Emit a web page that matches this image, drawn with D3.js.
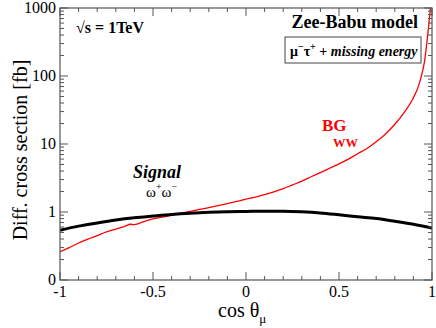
<!DOCTYPE html>
<html>
<head>
<meta charset="UTF-8">
<script src="https://d3js.org/d3.v7.min.js"></script>
<style>
  body { margin: 0; background: #fff; }
</style>
</head>
<body>
<div id="chart"></div>
<script>
// data
const cosTheta = [-1, -0.9, -0.8, -0.7, -0.6, -0.5, -0.4, -0.3, -0.2, -0.1, 0, 0.1, 0.2, 0.3, 0.4, 0.5, 0.6, 0.7, 0.8, 0.9, 1];
const signal = [0.54, 0.62, 0.69, 0.76, 0.82, 0.87, 0.92, 0.96, 0.99, 1.01, 1.02, 1.03, 1.03, 1.01, 0.97, 0.91, 0.85, 0.80, 0.73, 0.66, 0.58];

const bgCos = [-1, -0.95, -0.9, -0.85, -0.8, -0.75, -0.7, -0.65, -0.62, -0.6, -0.55, -0.5, -0.45, -0.4, -0.35, -0.3, -0.25, -0.2, -0.15, -0.1, -0.05, 0, 0.05, 0.1, 0.15, 0.2, 0.25, 0.3, 0.35, 0.4, 0.45, 0.5, 0.55, 0.6, 0.65, 0.7, 0.75, 0.8, 0.85, 0.9, 0.925, 0.95, 0.96, 0.97, 0.98, 0.99, 0.995];
const bgWW = [0.26, 0.30, 0.35, 0.40, 0.45, 0.51, 0.56, 0.62, 0.66, 0.65, 0.72, 0.79, 0.84, 0.90, 0.96, 1.02, 1.09, 1.16, 1.24, 1.33, 1.43, 1.55, 1.66, 1.80, 1.98, 2.2, 2.5, 2.85, 3.3, 3.8, 4.4, 5.1, 6.0, 7.2, 8.6, 10.8, 14, 19.5, 29, 48, 68, 120, 165, 270, 480, 900, 1300];

const yTicks = [0.1, 1, 10, 100, 1000];
const yTickLabels = ["0", "1", "10", "100", "1000"];
const xTicks = [-1, -0.5, 0, 0.5, 1];
const xTickLabels = ["-1", "-0.5", "0", "0.5", "1"];

const W = 436, H = 328;
const mLeft = 60, mRight = 432, mTop = 8, mBottom = 280;

const svg = d3.select('#chart').append('svg').attr('width', W).attr('height', H)
  .attr('font-family', "'Liberation Serif', Tinos, 'Times New Roman', Times, serif");

const x = d3.scaleLinear().domain([-1, 1]).range([mLeft, mRight]);
const y = d3.scaleLog().domain([0.1, 1000]).range([mBottom, mTop]);

// minor ticks
const xMinor = d3.range(-10, 11).map(d => d / 10);
const yMinor = [];
[0.1, 1, 10, 100].forEach(b => { for (let k = 2; k <= 9; k++) yMinor.push(b * k); });

const axisColor = '#555';

svg.append('defs').append('clipPath').attr('id', 'clip')
  .append('rect').attr('x', mLeft).attr('y', mTop).attr('width', mRight - mLeft).attr('height', mBottom - mTop);

// curves
const line = d3.line().x(d => x(d[0])).y(d => y(d[1])).curve(d3.curveMonotoneX);
const plot = svg.append('g').attr('clip-path', 'url(#clip)');
plot.append('path').datum(bgCos.map((c, i) => [c, bgWW[i]]))
  .attr('d', line)
  .attr('fill', 'none').attr('stroke', '#ff0000').attr('stroke-width', 1.3);
plot.append('path').datum(cosTheta.map((c, i) => [c, signal[i]]))
  .attr('d', line)
  .attr('fill', 'none').attr('stroke', '#000').attr('stroke-width', 3);

// axes: ticks pointing inward
const g = svg.append('g').attr('stroke', axisColor).attr('stroke-width', 1);
xMinor.forEach(v => {
  const major = Math.abs(v * 2 - Math.round(v * 2)) < 1e-9;
  const len = major ? 8 : 4;
  g.append('line').attr('x1', x(v)).attr('x2', x(v)).attr('y1', mBottom).attr('y2', mBottom - len);
  g.append('line').attr('x1', x(v)).attr('x2', x(v)).attr('y1', mTop).attr('y2', mTop + len);
});
yTicks.forEach(v => {
  g.append('line').attr('x1', mLeft).attr('x2', mLeft + 8).attr('y1', y(v)).attr('y2', y(v));
  g.append('line').attr('x1', mRight).attr('x2', mRight - 8).attr('y1', y(v)).attr('y2', y(v));
});
yMinor.forEach(v => {
  g.append('line').attr('x1', mLeft).attr('x2', mLeft + 4).attr('y1', y(v)).attr('y2', y(v));
  g.append('line').attr('x1', mRight).attr('x2', mRight - 4).attr('y1', y(v)).attr('y2', y(v));
});
svg.append('rect').attr('x', mLeft).attr('y', mTop).attr('width', mRight - mLeft).attr('height', mBottom - mTop)
  .attr('fill', 'none').attr('stroke', axisColor).attr('stroke-width', 1.2);

// tick labels
svg.append('g').selectAll('text').data(yTicks).enter().append('text')
  .attr('x', mLeft - 4).attr('y', d => y(d) + 5)
  .attr('text-anchor', 'end').attr('font-size', 16)
  .text((d, i) => yTickLabels[i]);
svg.append('g').selectAll('text').data(xTicks).enter().append('text')
  .attr('x', d => x(d)).attr('y', mBottom + 17)
  .attr('text-anchor', 'middle').attr('font-size', 16)
  .text((d, i) => xTickLabels[i]);

// axis titles
svg.append('text').attr('transform', `translate(27,${(mTop + mBottom) / 2 + 6}) rotate(-90)`)
  .attr('text-anchor', 'middle').attr('font-size', 20).text('Diff. cross section [fb]');
const xt = svg.append('text').attr('x', 218).attr('y', 317).attr('font-size', 20);
xt.append('tspan').text('cos θ');
xt.append('tspan').attr('dy', 6).attr('font-size', 13).text('μ');

// annotations
svg.append('text').attr('x', 76).attr('y', 33).attr('font-size', 16).attr('font-weight', 'bold').text('√s = 1TeV');
svg.append('text').attr('x', 418).attr('y', 28).attr('text-anchor', 'end').attr('font-size', 18).attr('font-weight', 'bold').text('Zee-Babu model');
svg.append('rect').attr('x', 285).attr('y', 37).attr('width', 136).attr('height', 26)
  .attr('fill', '#fff').attr('stroke', '#444').attr('stroke-width', 1);
const box = svg.append('text').attr('x', 290).attr('y', 56).attr('font-size', 14).attr('font-weight', 'bold');
box.append('tspan').text('μ');
box.append('tspan').attr('dy', -6).attr('font-size', 10).text('−');
box.append('tspan').attr('dy', 6).text('τ');
box.append('tspan').attr('dy', -6).attr('font-size', 10).text('+');
box.append('tspan').attr('dy', 6).text(' + ');
box.append('tspan').attr('font-style', 'italic').text('missing energy');

svg.append('text').attr('x', 322).attr('y', 131).attr('font-size', 17).attr('font-weight', 'bold').attr('fill', '#ff0000').text('BG');
svg.append('text').attr('x', 333).attr('y', 147).attr('font-size', 12.5).attr('font-weight', 'bold').attr('fill', '#ff0000').text('WW');

svg.append('text').attr('x', 133).attr('y', 178).attr('font-size', 18).attr('font-weight', 'bold').attr('font-style', 'italic').text('Signal');
const om = svg.append('text').attr('x', 146).attr('y', 197).attr('font-size', 15);
om.append('tspan').text('ω');
om.append('tspan').attr('dy', -7).attr('font-size', 10).text('+');
om.append('tspan').attr('dy', 7).text('ω');
om.append('tspan').attr('dy', -7).attr('font-size', 10).text('−');
</script>
</body>
</html>
